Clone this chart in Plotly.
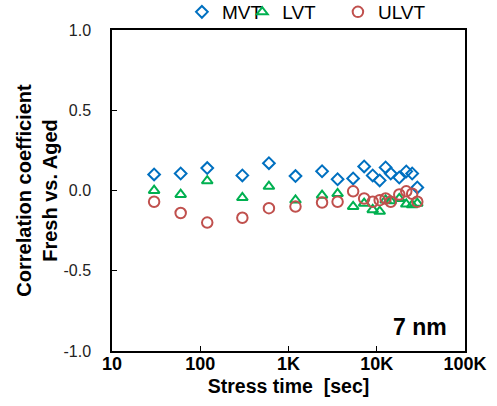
import plotly.graph_objects as go

stress_time = [30, 60, 120, 300, 600, 1200, 2400, 3600, 5400, 7200, 9000,
               10800, 12600, 14400, 18000, 21600, 25200, 28800]
mvt = [0.10, 0.106, 0.14, 0.094, 0.17, 0.09, 0.12, 0.07, 0.075, 0.15, 0.094,
       0.063, 0.144, 0.106, 0.081, 0.119, 0.106, 0.019]
lvt = [0.0, -0.025, 0.06, -0.045, 0.025, -0.06, -0.03, -0.02, -0.10, -0.08,
       -0.12, -0.13, -0.06, -0.065, -0.05, -0.085, -0.09, -0.08]
ulvt = [-0.07, -0.14, -0.20, -0.17, -0.11, -0.10, -0.075, -0.07, -0.005, -0.05,
        -0.07, -0.06, -0.05, -0.07, -0.025, -0.005, -0.02, -0.07]

x_tickvals = [10, 100, 1000, 10000, 100000]
x_ticktext = ["10", "100", "1K", "10K", "100K"]
y_tickvals = [-1.0, -0.5, 0.0, 0.5, 1.0]
y_ticktext = [f"{v:.1f}" for v in y_tickvals]

font = "Liberation Sans, Arial, sans-serif"

fig = go.Figure()
series = [
    ("MVT", mvt, "diamond-open", "#0070C0", 9, "legend", 0.198),
    ("LVT", lvt, "triangle-up-open", "#00B050", 9.5, "legend2", 0.369),
    ("ULVT", ulvt, "circle-open", "#C0504D", 10.5, "legend3", 0.64),
]
legend_cfg = {}
for name, vals, sym, col, sz, lg, lx in series:
    fig.add_trace(go.Scatter(
        x=stress_time, y=vals, mode="markers", name=name, legend=lg,
        marker=dict(symbol=sym, size=sz, color=col, line=dict(width=2, color=col)),
    ))
    legend_cfg[lg] = dict(x=lx, xanchor="left", y=1.056, yanchor="middle",
                          orientation="h", font=dict(size=19, family=font),
                          bgcolor="rgba(0,0,0,0)", borderwidth=0)

fig.update_layout(
    width=497, height=406,
    margin=dict(l=112, r=32, t=30, b=55, autoexpand=False),
    paper_bgcolor="white", plot_bgcolor="white",
    font=dict(family=font, color="black"),
    showlegend=True,
    **legend_cfg,
)
fig.update_xaxes(
    type="log", range=[1, 5], tickvals=x_tickvals, ticktext=x_ticktext,
    ticks="inside", ticklen=5, tickwidth=1, tickcolor="black",
    showline=True, linecolor="black", linewidth=1.5, mirror=True,
    showgrid=False, zeroline=False, ticklabelstandoff=-4,
    tickfont=dict(size=18, family=font, weight="bold"),
    title=dict(text="<b>Stress time  [sec]</b>", font=dict(size=19.5, family=font), standoff=6),
)
fig.update_yaxes(
    range=[-1.0, 1.0], tickvals=y_tickvals, ticktext=y_ticktext,
    ticks="inside", ticklen=5, tickwidth=1, tickcolor="black",
    showline=True, linecolor="black", linewidth=1.5, mirror=True,
    showgrid=False, zeroline=False, ticklabelstandoff=16,
    tickfont=dict(size=16, family=font, color="#222"),
    title=dict(text="<b>Correlation coefficient<br>Fresh vs. Aged</b>",
               font=dict(size=20, family=font), standoff=0),
)
fig.add_annotation(x=0.955, y=0.075, xref="paper", yref="paper", text="<b>7 nm</b>",
                   showarrow=False, xanchor="right", yanchor="middle",
                   font=dict(size=23, family=font, color="black"))

fig.write_html("out.html")
